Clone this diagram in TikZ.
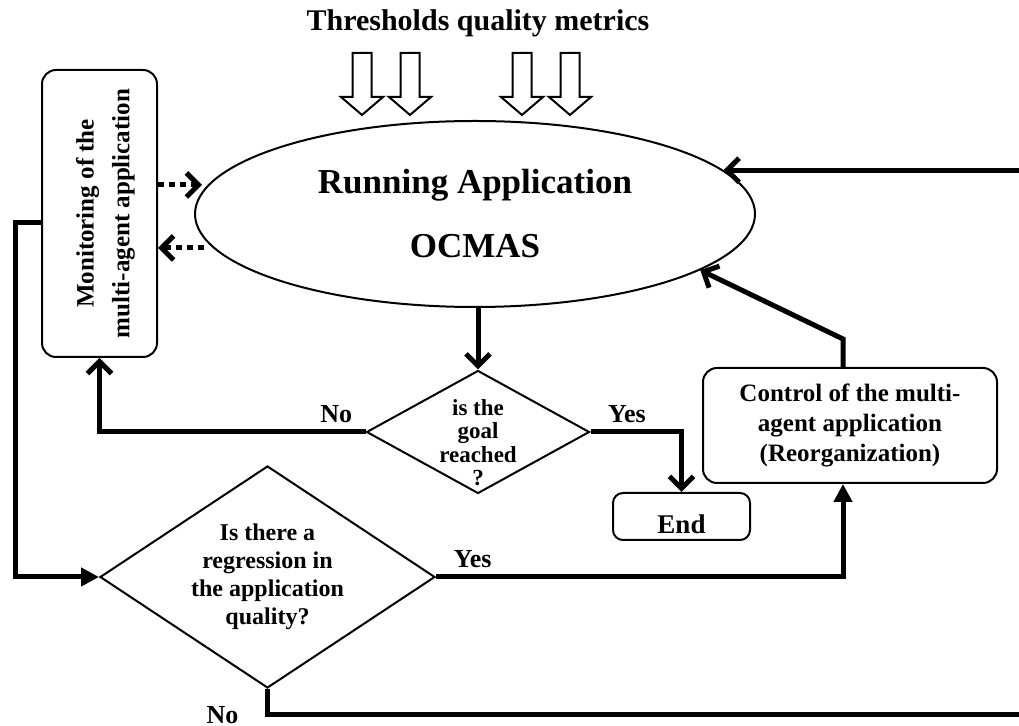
\documentclass[tikz,border=0pt]{standalone}
\usepackage{fontspec}
\setmainfont{Liberation Serif}
\usetikzlibrary{arrows.meta, positioning, shapes.geometric}

\begin{document}
\begin{tikzpicture}[
    x=0.5pt, y=-0.5pt,
    >={Straight Barb[length=6pt,width=12pt]},
    panel/.style={draw, rounded corners=7pt, line width=1pt, align=center},
    decision/.style={diamond, draw, line width=1pt, align=center, inner sep=0pt},
    link/.style={->, line width=2.5pt},
    trilink/.style={-{Triangle[length=9pt,width=9pt]}, line width=2.5pt},
    dotlink/.style={->, line width=2.5pt, dash pattern=on 3pt off 2.5pt},
    hollow/.style={draw, line width=1pt, fill=white},
    lbl/.style={font=\fontsize{13}{15}\selectfont\bfseries},
]
\useasboundingbox (0,0) rectangle (1019,726);

\node[font=\fontsize{15}{18}\selectfont\bfseries] (metrics) at (478,23) {Thresholds quality metrics};
\node[ellipse, draw, line width=1pt, minimum width=280pt, minimum height=93pt, align=center,
      font=\fontsize{17.5}{21}\selectfont\bfseries] (app) at (475,214) {Running Application\\[11pt]OCMAS};
\node[panel, minimum width=57.5pt, minimum height=143.5pt, font=\fontsize{12.5}{15}\selectfont\bfseries]
      (monitor) at (99.5,213.5)
      {\hspace{6pt}\rotatebox{90}{\begin{tabular}{@{}c@{}}Monitoring of the\\[3pt] multi-agent application\end{tabular}}};
\node[decision, minimum width=111.5pt, minimum height=61.5pt, text height=4pt, text depth=4pt,
      font=\fontsize{11.5}{11.7}\selectfont\bfseries] (goal) at (478,432)
      {\raisebox{-10pt}{\begin{tabular}{@{}c@{}}is the\\goal\\reached\\?\end{tabular}}};
\node[decision, aspect=1.5, minimum width=167.5pt, minimum height=111pt,
      font=\fontsize{12}{14}\selectfont\bfseries] (regress) at (267.5,577)
      {Is there a\\regression in\\the application\\quality?};
\node[panel, minimum width=147pt, minimum height=57.5pt, font=\fontsize{12.5}{15}\selectfont\bfseries]
      (control) at (850,425.5) {Control of the multi-\\agent application\\(Reorganization)};
\node[panel, rounded corners=5pt, minimum width=68.5pt, minimum height=23.5pt, inner sep=2pt,
      text height=17.5pt, text depth=0pt, font=\fontsize{13.5}{16}\selectfont\bfseries]
      (finish) at (681.5,516.5) {End};

% the four threshold inputs
\foreach \xa in {362,410,522,570}
    \draw[hollow] ({\xa-9.5},53) -- ({\xa+9.5},53) -- ({\xa+9.5},97) -- ({\xa+21},97)
        -- (\xa,115) -- ({\xa-21},97) -- ({\xa-9.5},97) -- cycle;

\draw[dotlink] ([yshift=14.25pt]monitor.east) -- ([yshift=14.25pt,xshift=4pt]monitor.east -| app.west);
\draw[dotlink] ([yshift=-17.25pt,xshift=5pt]monitor.east -| app.west) -- ([yshift=-17.25pt]monitor.east);

\draw[link] (goal.north |- app.south) -- (goal.north);
\draw[link] (goal.west) -| node[lbl, above, pos=0.055]{No} (monitor.south);
\draw[link] (goal.east) -| node[lbl, above, pos=0.2]{Yes} (finish.north);

\coordinate (rail) at (15,577);
\draw[trilink] ([yshift=-4.75pt]monitor.west) -| (rail) -- (regress.west);
\draw[trilink] (regress.east) -| node[lbl, above, pos=0.045]{Yes} ([xshift=-3.5pt]control.south);
\draw[link] ([xshift=-3.5pt]control.north) -- ++(0,-28) -- (app.-14);

% "no" loops back round the right edge into the application
\draw[link] (regress.south) |- node[lbl, pos=0.5, left=10pt]{No} (1040,715) |- (app.10);

\end{tikzpicture}
\end{document}
